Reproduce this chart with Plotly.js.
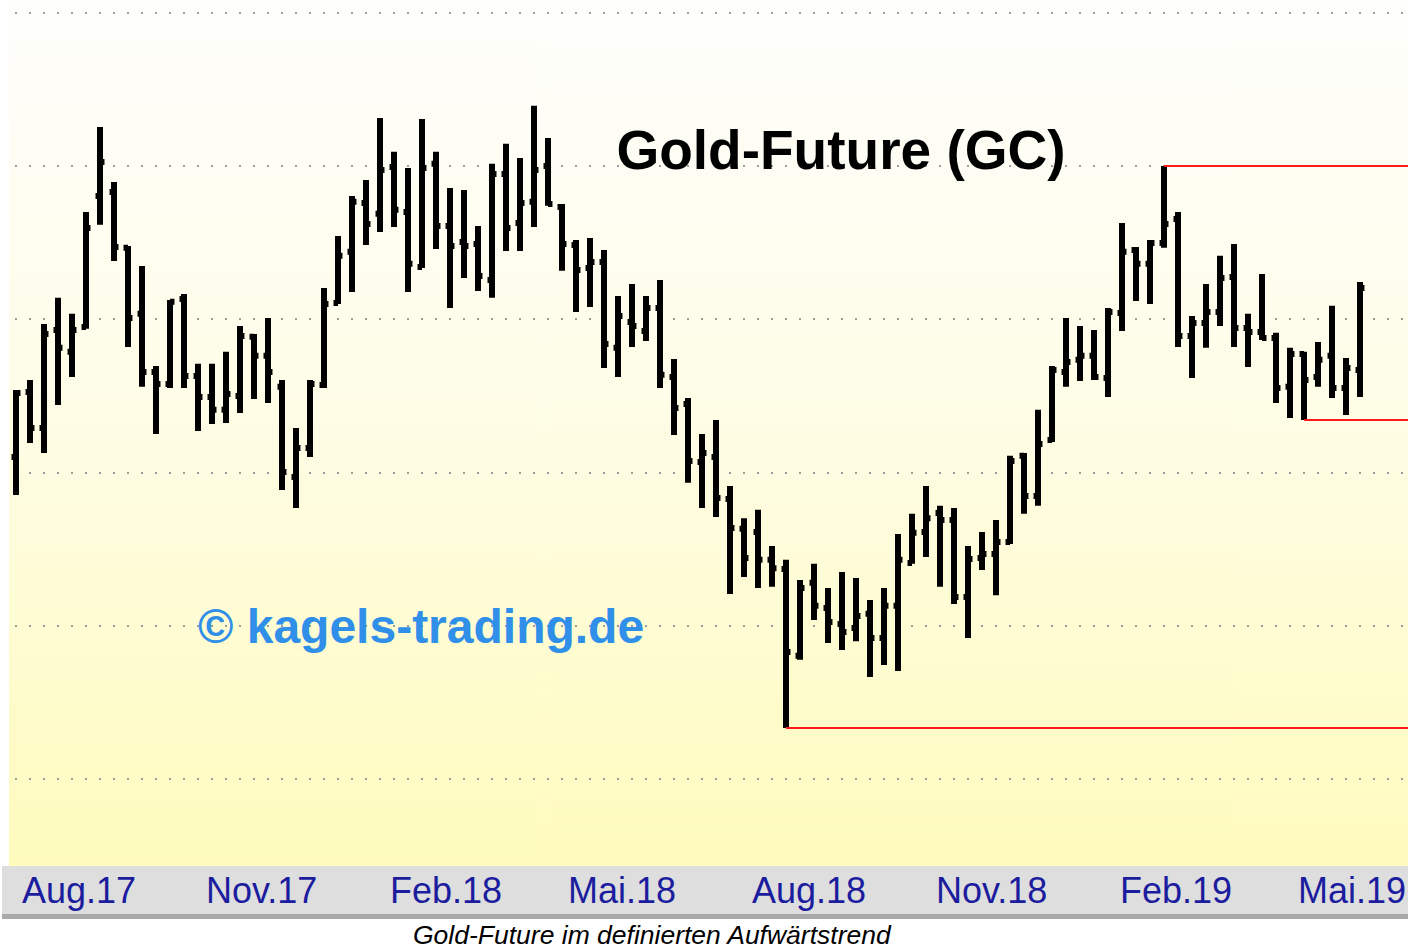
<!DOCTYPE html>
<html>
<head>
<meta charset="utf-8">
<script src="https://cdn.plot.ly/plotly-3.0.1.min.js"></script>
<style>
html,body{margin:0;padding:0;background:#fff;}
#chart{width:1408px;height:949px;}
</style>
</head>
<body>
<div id="chart"></div>
<script>
// Weekly bars (week ending Friday)
const weeks = [
 '2017-07-28','2017-08-04','2017-08-11','2017-08-18','2017-08-25','2017-09-01','2017-09-08','2017-09-15','2017-09-22','2017-09-29',
 '2017-10-06','2017-10-13','2017-10-20','2017-10-27','2017-11-03','2017-11-10','2017-11-17','2017-11-24','2017-12-01','2017-12-08',
 '2017-12-15','2017-12-22','2017-12-29','2018-01-05','2018-01-12','2018-01-19','2018-01-26','2018-02-02','2018-02-09','2018-02-16',
 '2018-02-23','2018-03-02','2018-03-09','2018-03-16','2018-03-23','2018-03-30','2018-04-06','2018-04-13','2018-04-20','2018-04-27',
 '2018-05-04','2018-05-11','2018-05-18','2018-05-25','2018-06-01','2018-06-08','2018-06-15','2018-06-22','2018-06-29','2018-07-06',
 '2018-07-13','2018-07-20','2018-07-27','2018-08-03','2018-08-10','2018-08-17','2018-08-24','2018-08-31','2018-09-07','2018-09-14',
 '2018-09-21','2018-09-28','2018-10-05','2018-10-12','2018-10-19','2018-10-26','2018-11-02','2018-11-09','2018-11-16','2018-11-23',
 '2018-11-30','2018-12-07','2018-12-14','2018-12-21','2018-12-28','2019-01-04','2019-01-11','2019-01-18','2019-01-25','2019-02-01',
 '2019-02-08','2019-02-15','2019-02-22','2019-03-01','2019-03-08','2019-03-15','2019-03-22','2019-03-29','2019-04-05','2019-04-12',
 '2019-04-19','2019-04-26','2019-05-03','2019-05-10','2019-05-17','2019-05-24','2019-05-31'
];
const openPrices = [
 1255.1,1276.3,1264.6,1296.5,1289.4,1297.5,1340.2,1341.5,1323.3,1301.8,
 1282.8,1278.9,1306.6,1281.5,1274.7,1270.5,1275.0,1294.3,1288.1,1278.0,
 1248.6,1258.1,1278.6,1305.3,1322.0,1337.9,1334.4,1349.7,1335.0,1317.1,
 1350.7,1330.4,1325.2,1324.6,1312.8,1347.4,1331.4,1338.3,1350.0,1336.6,
 1324.2,1316.7,1318.7,1290.7,1299.1,1296.2,1303.7,1281.2,1272.4,1253.5,
 1255.1,1241.4,1231.7,1230.7,1221.6,1218.6,1190.3,1214.1,1205.9,1200.7,
 1199.4,1204.0,1196.1,1206.6,1220.6,1230.7,1236.9,1234.6,1209.5,1222.2,
 1223.5,1227.4,1255.5,1242.4,1260.7,1282.8,1286.8,1288.1,1280.9,1302.1,
 1322.6,1318.1,1324.9,1332.7,1294.6,1298.8,1302.4,1313.8,1297.2,1295.9,
 1293.9,1278.0,1288.7,1281.2,1288.1,1277.6,1283.5
];
const highPrices = [
 1277.0,1280.2,1298.5,1307.0,1301.8,1335.0,1362.7,1344.8,1323.9,1317.4,
 1284.8,1306.3,1308.3,1285.5,1285.5,1289.4,1297.8,1295.2,1300.4,1280.2,
 1264.6,1280.2,1310.2,1327.2,1340.2,1345.4,1365.6,1354.6,1349.3,1365.3,
 1354.6,1342.8,1342.2,1330.4,1350.7,1357.2,1352.6,1369.6,1359.1,1337.6,
 1325.9,1326.5,1322.6,1307.6,1311.5,1307.6,1312.8,1287.1,1274.4,1262.6,
 1267.2,1245.7,1235.2,1237.9,1226.1,1221.6,1215.0,1220.3,1212.4,1217.6,
 1215.7,1208.5,1212.4,1230.0,1236.6,1245.7,1239.2,1238.5,1226.1,1230.7,
 1234.6,1255.5,1256.4,1270.5,1284.8,1300.4,1297.8,1296.5,1303.7,1331.4,
 1323.6,1325.9,1350.0,1335.0,1301.1,1311.5,1320.7,1324.6,1301.8,1314.8,
 1295.6,1290.7,1289.4,1292.6,1304.4,1287.4,1312.2
];
const lowPrices = [
 1242.7,1259.7,1256.4,1272.1,1281.2,1296.9,1330.8,1319.0,1291.0,1278.0,
 1262.6,1277.6,1277.6,1263.6,1265.9,1266.2,1269.5,1274.0,1272.7,1244.4,
 1238.5,1255.1,1277.6,1305.0,1308.9,1324.2,1328.5,1330.1,1308.9,1316.7,
 1322.9,1303.7,1313.5,1309.2,1307.0,1322.3,1322.3,1330.1,1337.0,1315.8,
 1302.4,1304.0,1284.1,1281.2,1291.0,1292.9,1277.6,1262.3,1246.7,1238.5,
 1235.6,1210.5,1216.0,1212.4,1212.8,1166.8,1189.0,1202.0,1194.5,1192.2,
 1195.1,1183.4,1187.3,1185.4,1220.3,1222.5,1212.8,1207.2,1196.1,1218.3,
 1210.1,1226.8,1236.6,1239.2,1260.0,1278.0,1279.9,1280.2,1274.7,1296.2,
 1306.0,1305.0,1323.3,1291.0,1280.9,1290.7,1297.8,1291.0,1284.5,1293.3,
 1272.7,1267.8,1267.2,1278.0,1274.4,1268.8,1274.7
];
const closePrices = [
 1276.0,1264.6,1295.2,1290.7,1296.5,1329.8,1351.3,1323.6,1300.4,1282.8,
 1278.9,1305.7,1281.5,1274.7,1270.5,1275.7,1294.6,1288.1,1282.8,1250.2,
 1258.1,1278.9,1305.0,1320.7,1338.3,1331.1,1348.7,1335.7,1318.1,1349.3,
 1330.4,1323.9,1323.9,1314.1,1347.4,1329.8,1337.9,1348.7,1337.6,1324.6,
 1316.1,1318.7,1292.0,1301.1,1297.8,1303.7,1281.9,1271.1,1253.8,1256.4,
 1241.8,1232.0,1222.2,1221.6,1218.9,1191.6,1212.4,1206.6,1201.3,1198.1,
 1203.3,1196.1,1206.6,1221.6,1230.4,1235.2,1234.6,1209.5,1221.9,1223.5,
 1227.4,1253.8,1242.4,1259.4,1283.5,1286.1,1288.1,1281.2,1302.4,1322.0,
 1318.1,1324.9,1331.1,1294.6,1298.8,1302.4,1313.5,1297.2,1295.9,1293.9,
 1277.6,1288.7,1280.2,1286.8,1277.6,1284.1,1310.2
];
const monthStarts = ['2017-08-01','2017-11-01','2018-02-01','2018-05-01','2018-08-01','2018-11-01','2019-02-01','2019-05-01'];
const monthLabels = ['Aug.17','Nov.17','Feb.18','Mai.18','Aug.18','Nov.18','Feb.19','Mai.19'];
const gridPrices = [1150,1200,1250,1300,1350,1400];

const titleText = 'Gold-Future (GC)';
const watermarkText = '© kagels-trading.de';
const captionText = 'Gold-Future im definierten Aufwärtstrend';

const xRange = ['2017-07-24 12:00','2019-06-24'];
const yRange = [1121.8, 1404.1];

// red trend-range lines derived from the data
function argMin(arr, from){ let k=from; for(let i=from;i<arr.length;i++){ if(arr[i]<arr[k]) k=i; } return k; }
function argMax(arr, from){ let k=from; for(let i=from;i<arr.length;i++){ if(arr[i]>arr[k]) k=i; } return k; }
const iLow = argMin(lowPrices, 0);
const iHigh = argMax(highPrices, iLow);
const iLow2 = argMin(lowPrices, iHigh);

function gradientURL(){
  const c=document.createElement('canvas'); c.width=4; c.height=512;
  const g=c.getContext('2d');
  const gr=g.createLinearGradient(0,0,0,512);
  gr.addColorStop(0,'#fefefc');
  gr.addColorStop(0.45,'#fefde8');
  gr.addColorStop(1,'#fffbbd');
  g.fillStyle=gr; g.fillRect(0,0,4,512);
  return c.toDataURL('image/png');
}

const FONT = 'Liberation Sans, Arial, sans-serif';
const plotH = 866;

const trace = {
  type:'ohlc',
  x: weeks, open: openPrices, high: highPrices, low: lowPrices, close: closePrices,
  increasing:{line:{color:'#000000', width:6}},
  decreasing:{line:{color:'#000000', width:6}},
  line:{width:6},
  tickwidth:0.32,
  hoverinfo:'skip',
  showlegend:false
};

const redLine = {color:'#ff1a1a', width:2};
const shapes = [
  {type:'rect', xref:'paper', yref:'paper', x0:-0.005, x1:1, y0:-48/plotH, y1:0, fillcolor:'#dedede', line:{width:0}, layer:'below'},
  {type:'rect', xref:'paper', yref:'paper', x0:-0.005, x1:1, y0:-53/plotH, y1:-48/plotH, fillcolor:'#a9a9a9', line:{width:0}, layer:'below'},
  {type:'line', xref:'x', yref:'y', x0:weeks[iLow], x1:xRange[1], y0:lowPrices[iLow], y1:lowPrices[iLow], line:redLine},
  {type:'line', xref:'x', yref:'y', x0:weeks[iHigh], x1:xRange[1], y0:highPrices[iHigh], y1:highPrices[iHigh], line:redLine},
  {type:'line', xref:'x', yref:'y', x0:weeks[iLow2], x1:xRange[1], y0:lowPrices[iLow2], y1:lowPrices[iLow2], line:redLine}
];

const annotations = monthStarts.map((d,i)=>({
  x:d, xref:'x', y:-24/plotH, yref:'paper', text:monthLabels[i], showarrow:false,
  xanchor:'left', yanchor:'middle', xshift:-3, borderpad:0,
  font:{family:FONT, size:36, color:'#1c1c9e'}
}));
annotations.push({
  x:(196-9)/1399, xref:'paper', y:1-626/plotH, yref:'paper', text:'<b>'+watermarkText+'</b>', showarrow:false,
  xanchor:'left', yanchor:'middle', font:{family:FONT, size:48, color:'#2f8fe9'}
});
annotations.push({
  x:(652-9)/1399, xref:'paper', y:-68.5/plotH, yref:'paper', text:'<i>'+captionText+'</i>', showarrow:false,
  xanchor:'center', yanchor:'middle', borderpad:0, font:{family:FONT, size:26.5, color:'#000000'}
});

const layout = {
  width:1408, height:949,
  margin:{l:9, r:0, t:0, b:83, pad:0},
  paper_bgcolor:'#ffffff',
  plot_bgcolor:'rgba(0,0,0,0)',
  title:{text:'<b>'+titleText+'</b>', xref:'paper', yref:'paper', x:(841-9)/1399, y:1-150/plotH,
         xanchor:'center', yanchor:'middle', font:{family:FONT, size:55, color:'#000000'}},
  xaxis:{type:'date', range:xRange, showgrid:false, zeroline:false, showline:false, ticks:'',
         showticklabels:false, rangeslider:{visible:false}, fixedrange:true},
  yaxis:{range:yRange, tickvals:gridPrices, showticklabels:false, ticks:'', zeroline:false, showline:false,
         showgrid:true, gridcolor:'#9c9c9c', gridwidth:2, griddash:'0px,6px,2px,6px', fixedrange:true},
  images:[{source:gradientURL(), xref:'paper', yref:'paper', x:0, y:1, sizex:1, sizey:1,
           sizing:'stretch', xanchor:'left', yanchor:'top', layer:'below'}],
  shapes:shapes,
  annotations:annotations,
  showlegend:false
};

Plotly.newPlot('chart', [trace], layout, {displayModeBar:false, staticPlot:true});
</script>
</body>
</html>
